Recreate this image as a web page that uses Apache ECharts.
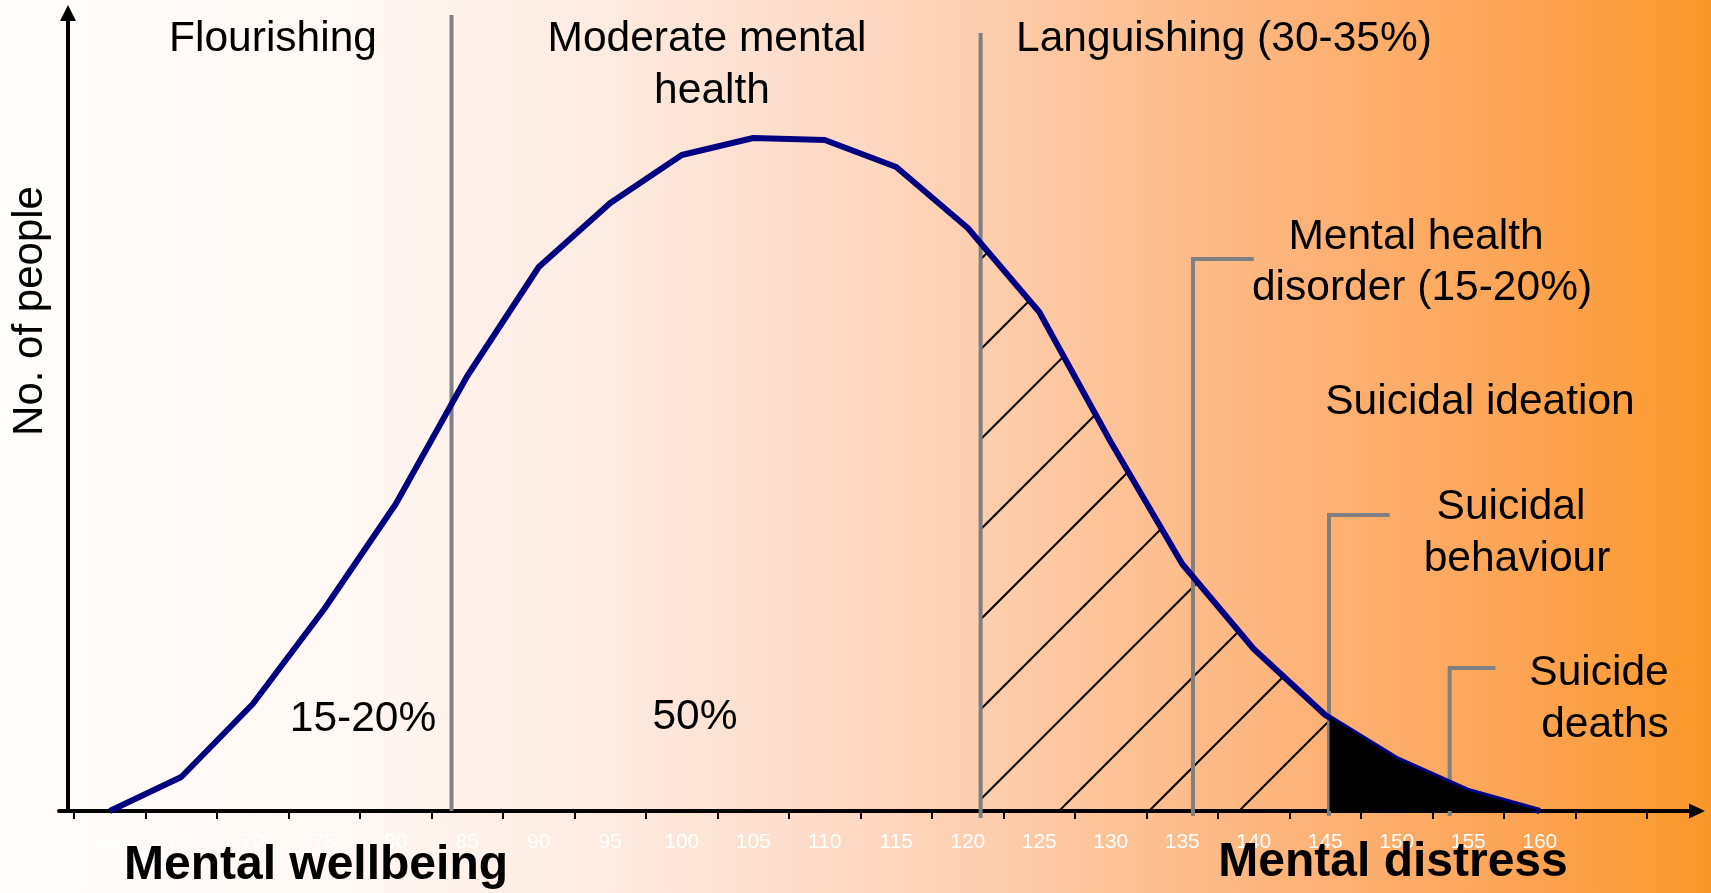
<!DOCTYPE html>
<html>
<head>
<meta charset="utf-8">
<script src="https://cdn.jsdelivr.net/npm/echarts@6/dist/echarts.min.js"></script>
<style>
  html, body { margin: 0; padding: 0; }
  #chart { width: 1711px; height: 893px; }
</style>
</head>
<body>
<div id="chart"></div>
<script>
// x categories (score), last one has no label
const categories = ['60', '65', '70', '75', '80', '85', '90', '95', '100', '105', '110',
  '115', '120', '125', '130', '135', '140', '145', '150', '155', '160', ''];
// no. of people (arbitrary units) for each category
const people = [0, 34, 107, 202, 307, 435, 544, 608, 656, 673, 671,
  644, 583, 499, 369, 247, 162, 96, 52, 20, 0];

// languishing zone under the curve (hatched)
const hatchX = [120.9, 125, 130, 135, 140, 145, 145.3];
const hatchY = [568, 499, 369, 247, 162, 96, 94];
// suicide deaths zone (black)
const deathX = [145.3, 150, 155, 160];
const deathY = [94, 52, 20, 0];

// zone dividers: x, bottom, top
const dividers = [[83.9, 0, 796], [120.9, -7, 778]];
// brackets: x, top, end of the top stroke
const brackets = [[135.75, 552, 140], [145.26, 296, 149.5], [153.7, 143, 156.9]];

const FONT = "'Liberation Sans', Arial, sans-serif";
const GREY = '#808080';

// diagonal hatch tile
const tile = document.createElement('canvas');
tile.width = 90; tile.height = 90;
const g = tile.getContext('2d');
g.strokeStyle = '#000';
g.lineWidth = 2;
g.beginPath();
g.moveTo(-3, 73); g.lineTo(73, -3);
g.moveTo(67, 93); g.lineTo(93, 67);
g.stroke();

const chart = echarts.init(document.getElementById('chart'));

const pairs = (xs, ys) => xs.map((x, i) => [x, ys[i]]);

const greyLine = data => ({
  type: 'line',
  xAxisIndex: 1,
  data: data,
  symbol: 'none',
  clip: false,
  silent: true,
  z: 3,
  lineStyle: { color: GREY, width: 4, cap: 'butt', join: 'miter' }
});

const txt = (text, x, y, size, bold) => ({
  type: 'text',
  x: x, y: y, z: 100,
  style: {
    text: text, align: 'center', verticalAlign: 'middle',
    fontSize: size, fontFamily: FONT, fontWeight: bold ? 'bold' : 'normal', fill: '#000'
  }
});

chart.setOption({
  backgroundColor: new echarts.graphic.LinearGradient(0, 0, 1, 0, [
    { offset: 0, color: '#fffdfb' },
    { offset: 0.2, color: '#fff8f4' },
    { offset: 0.35, color: '#fdebe1' },
    { offset: 0.5, color: '#fdd9c3' },
    { offset: 0.6, color: '#fdcaa6' },
    { offset: 0.7, color: '#fdbb89' },
    { offset: 0.8, color: '#fdae6d' },
    { offset: 0.9, color: '#fca351' },
    { offset: 1, color: '#fb9828' }
  ]),
  animation: false,
  grid: [
    { left: 74, right: 64, top: 15, bottom: 82 },
    { left: 59, right: 17, top: 15, bottom: 82 }
  ],
  xAxis: [
    {
      type: 'category',
      gridIndex: 0,
      data: categories,
      boundaryGap: true,
      axisLine: { show: false },
      axisTick: { show: true, length: 8, lineStyle: { color: '#000', width: 2 } },
      axisLabel: { interval: 0, color: '#fff', fontSize: 21, fontFamily: FONT, margin: 21 },
      splitLine: { show: false }
    },
    {
      type: 'value',
      gridIndex: 0,
      min: 57.5,
      max: 167.5,
      show: false
    },
    {
      type: 'value',
      gridIndex: 1,
      min: 0,
      max: 1,
      axisLine: {
        show: true, onZero: false,
        symbol: ['none', 'triangle'], symbolSize: [15, 16], symbolOffset: [0, 3],
        lineStyle: { color: '#000', width: 4 }
      },
      axisTick: { show: false },
      axisLabel: { show: false },
      splitLine: { show: false }
    }
  ],
  yAxis: [
    {
      type: 'value',
      gridIndex: 0,
      min: 0,
      max: 796,
      offset: 6,
      axisLine: {
        show: true,
        symbol: ['none', 'triangle'], symbolSize: [16, 16], symbolOffset: [0, 2],
        lineStyle: { color: '#000', width: 4 }
      },
      axisTick: { show: false },
      axisLabel: { show: false },
      splitLine: { show: false }
    },
    { type: 'value', gridIndex: 1, min: 0, max: 1, show: false }
  ],
  series: [
    {
      type: 'line',
      xAxisIndex: 1,
      data: pairs(hatchX, hatchY),
      symbol: 'none',
      silent: true,
      z: 2,
      lineStyle: { width: 0 },
      areaStyle: { color: { image: tile, repeat: 'repeat' }, opacity: 1 }
    },
    ...dividers.map(d => greyLine([[d[0], d[1]], [d[0], d[2]]])),
    ...brackets.map(b => greyLine([[b[0], -5], [b[0], b[1]], [b[2], b[1]]])),
    {
      type: 'line',
      xAxisIndex: 0,
      data: people,
      symbol: 'none',
      silent: true,
      z: 4,
      lineStyle: { color: '#000080', width: 6, join: 'round' }
    },
    {
      type: 'line',
      xAxisIndex: 1,
      data: pairs(deathX, deathY),
      symbol: 'none',
      silent: true,
      z: 5,
      lineStyle: { width: 0 },
      areaStyle: { color: '#000', opacity: 1 }
    }
  ],
  graphic: [
    txt('Flourishing', 273, 39, 42.5),
    txt('Moderate mental', 707, 39, 42.5),
    txt('health', 712, 91, 42.5),
    txt('Languishing (30-35%)', 1224, 39, 42.5),
    txt('Mental health', 1416, 237, 42.5),
    txt('disorder (15-20%)', 1422, 288, 42.5),
    txt('Suicidal ideation', 1480, 402, 42.5),
    txt('Suicidal', 1511, 507, 42.5),
    txt('behaviour', 1517, 559, 42.5),
    txt('Suicide', 1599, 673, 42.5),
    txt('deaths', 1605, 725, 42.5),
    txt('15-20%', 363, 719, 42.5),
    txt('50%', 695, 717, 42.5),
    txt('Mental wellbeing', 316, 866, 48, true),
    txt('Mental distress', 1393, 863, 48, true),
    Object.assign(txt('No. of people', 30, 311, 42), { rotation: Math.PI / 2 })
  ]
});
</script>
</body>
</html>
